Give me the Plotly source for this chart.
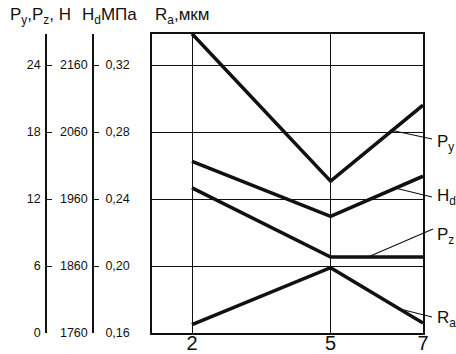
import plotly.graph_objects as go

# ---- data ----
feed = [2, 5, 7]
Py = [26.8, 13.6, 20.4]        # N
Pz = [13.0, 6.8, 6.8]          # N
Hd = [2016, 1934, 1994]        # MPa
Ra = [0.165, 0.199, 0.166]     # мкм

n_ticks = [0, 6, 12, 18, 24]
hd_ticks = [1760, 1860, 1960, 2060, 2160]
ra_ticks = [0.16, 0.20, 0.24, 0.28, 0.32]
ra_text = ["0,16", "0,20", "0,24", "0,28", "0,32"]
x_ticks = [2, 5, 7]

W, H = 456, 354
ML, MR, MT, MB = 0, 33, 34, 21
PW = W - ML - MR
PH = H - MT - MB
FONT = "Liberation Sans, Arial, sans-serif"

def px(x):
    return (x - ML) / PW

def py(y):
    return (H - MB - y) / PH

top_frac = PH / 67.0  # tick-spacing units shown

fig = go.Figure()
lw = 3.5
fig.add_trace(go.Scatter(x=feed, y=Py, mode="lines", line=dict(color="#111", width=lw), yaxis="y3"))
fig.add_trace(go.Scatter(x=feed, y=Pz, mode="lines", line=dict(color="#111", width=lw), yaxis="y3"))
fig.add_trace(go.Scatter(x=feed, y=Hd, mode="lines", line=dict(color="#111", width=lw), yaxis="y2"))
fig.add_trace(go.Scatter(x=feed, y=Ra, mode="lines", line=dict(color="#111", width=lw), yaxis="y"))

tickfont = dict(family=FONT, size=12.5, color="#111")
common_free = dict(showline=True, linecolor="#111", linewidth=1.5, ticks="inside",
                   ticklen=5, tickcolor="#111", tickwidth=1.2, showgrid=False,
                   zeroline=False, tickfont=tickfont, fixedrange=True, automargin=False,
                   ticklabelstandoff=2)

fig.update_layout(
    width=W, height=H,
    margin=dict(l=ML, r=MR, t=MT, b=MB, pad=0, autoexpand=False),
    paper_bgcolor="white", plot_bgcolor="white",
    showlegend=False,
    xaxis=dict(domain=[px(152), 1], range=[1.134, 7], tickvals=x_ticks,
               showgrid=True, gridcolor="#111", gridwidth=1.2,
               showline=True, mirror=True, linecolor="#111", linewidth=1.5,
               ticks="", zeroline=False, automargin=False, ticklabelstandoff=-9,
               tickfont=dict(family=FONT, size=20, color="#111")),
    yaxis=dict(range=[0.16, 0.16 + 0.04 * top_frac], tickvals=ra_ticks, ticktext=ra_text,
               showgrid=True, gridcolor="#111", gridwidth=1.2,
               showline=True, mirror=True, linecolor="#111", linewidth=1.5,
               ticks="inside", ticklen=5, tickcolor="#111", zeroline=False,
               automargin=False, tickfont=tickfont, ticklabelstandoff=18),
    yaxis2=dict(overlaying="y", anchor="free", position=px(93), side="left",
                range=[1760, 1760 + 100 * top_frac], tickvals=hd_ticks, **common_free),
    yaxis3=dict(overlaying="y", anchor="free", position=px(46), side="left",
                range=[0, 6 * top_frac], tickvals=n_ticks, **common_free),
)

hfont = dict(family=FONT, size=17, color="#111")
headers = [("P<sub>y</sub>,P<sub>z</sub>, H", 8), ("H<sub>d</sub>МПа", 80), ("R<sub>a</sub>,мкм", 153)]
for txt, xl in headers:
    fig.add_annotation(text=txt, x=px(xl), y=py(16), xref="paper", yref="paper",
                       xanchor="left", yanchor="middle", showarrow=False, font=hfont)

# labels with leader lines
labels = [
    ("P<sub>y</sub>", (390, 130), (432, 139), 143),
    ("H<sub>d</sub>", (395, 188), (432, 197), 197),
    ("P<sub>z</sub>", (368, 257), (433, 229), 236),
    ("R<sub>a</sub>", (400, 309), (432, 317), 319),
]
for txt, p0, p1, ty in labels:
    fig.add_shape(type="line", xref="paper", yref="paper",
                  x0=px(p0[0]), y0=py(p0[1]), x1=px(p1[0]), y1=py(p1[1]),
                  line=dict(color="#111", width=1.2))
    fig.add_annotation(text=txt, x=px(435), y=py(ty), xref="paper", yref="paper",
                       xanchor="left", yanchor="middle", showarrow=False, font=hfont)

fig.write_html("out.html", config={"displayModeBar": False},
               post_script="document.body.style.margin='0';document.body.style.overflow='hidden';")
